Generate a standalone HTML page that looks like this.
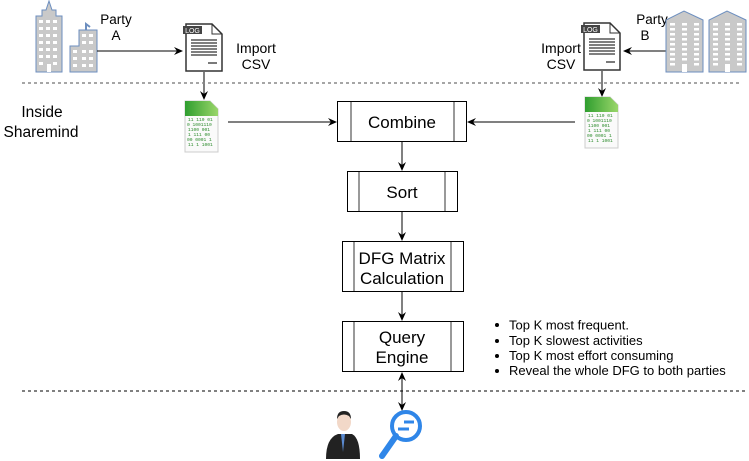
<!DOCTYPE html>
<html><head><meta charset="utf-8"><style>
html,body{margin:0;padding:0;background:#fff;}
svg{display:block;font-family:"Liberation Sans",Arial,sans-serif;}
</style></head><body>
<svg width="749" height="461" viewBox="0 0 749 461" xmlns="http://www.w3.org/2000/svg">
<defs>
<marker id="ar" markerWidth="10" markerHeight="10" refX="8" refY="5" orient="auto" markerUnits="userSpaceOnUse">
<path d="M0,1 L9,5 L0,9 L3,5 Z" fill="#000"/></marker>
<marker id="as" markerWidth="10" markerHeight="10" refX="1" refY="5" orient="auto" markerUnits="userSpaceOnUse">
<path d="M9,1 L0,5 L9,9 L6,5 Z" fill="#000"/></marker>
<linearGradient id="gg" x1="0" y1="0" x2="1" y2="0"><stop offset="0" stop-color="#2f9e2f"/><stop offset="1" stop-color="#9ad66a"/></linearGradient>
</defs>

<!-- Building A big -->
<path d="M36,72 L36,16 L42,16 L42,10 L46,10 L49,1 L52,10 L56,10 L56,16 L62,16 L62,72 Z" fill="#c9c9c9" stroke="#6c8ebf" stroke-width="1"/>
<g fill="#fff">
<rect x="39" y="20" width="4" height="3"/><rect x="46" y="20" width="4" height="3"/><rect x="53" y="20" width="4" height="3"/>
<rect x="39" y="27" width="4" height="3"/><rect x="46" y="27" width="4" height="3"/><rect x="53" y="27" width="4" height="3"/>
<rect x="39" y="34" width="4" height="3"/><rect x="46" y="34" width="4" height="3"/><rect x="53" y="34" width="4" height="3"/>
<rect x="39" y="41" width="4" height="3"/><rect x="46" y="41" width="4" height="3"/><rect x="53" y="41" width="4" height="3"/>
<rect x="39" y="48" width="4" height="3"/><rect x="46" y="48" width="4" height="3"/><rect x="53" y="48" width="4" height="3"/>
<rect x="39" y="55" width="4" height="3"/><rect x="46" y="55" width="4" height="3"/><rect x="53" y="55" width="4" height="3"/>
<rect x="39" y="62" width="4" height="3"/><rect x="47" y="64" width="4" height="8"/><rect x="53" y="62" width="4" height="3"/>
</g>
<!-- Building A small -->
<path d="M70,72 L70,46 L79,46 L79,30 L97,30 L97,72 Z" fill="#c9c9c9" stroke="#6c8ebf" stroke-width="1"/>
<path d="M86,30 L86,24 L90,27" fill="none" stroke="#6c8ebf" stroke-width="2"/>
<g fill="#fff">
<rect x="82" y="34" width="4" height="3"/><rect x="89" y="34" width="4" height="3"/>
<rect x="82" y="41" width="4" height="3"/><rect x="89" y="41" width="4" height="3"/>
<rect x="73" y="50" width="4" height="3"/><rect x="82" y="50" width="4" height="3"/><rect x="89" y="50" width="4" height="3"/>
<rect x="73" y="57" width="4" height="3"/><rect x="82" y="57" width="4" height="3"/><rect x="89" y="57" width="4" height="3"/>
<rect x="73" y="64" width="4" height="3"/><rect x="82" y="64" width="4" height="3"/><rect x="89" y="64" width="4" height="3"/>
</g>
<text x="116" y="24" font-size="13.5" text-anchor="middle">Party</text>
<text x="116" y="40" font-size="13.5" text-anchor="middle">A</text>
<line x1="97" y1="51" x2="182" y2="51" stroke="#000" stroke-width="1" marker-end="url(#ar)"/>

<!-- LOG doc A -->
<g id="logdoc">
<path d="M186,24 L212,24 L222,34 L222,71 L186,71 Z" fill="#fff" stroke="#333" stroke-width="1.5"/>
<path d="M212,24 L212,34 L222,34" fill="none" stroke="#333" stroke-width="1"/>
<rect x="183" y="26" width="19" height="8" fill="#444"/>
<text x="192.5" y="33" font-size="7" fill="#fff" text-anchor="middle">LOG</text>
<g stroke="#333" stroke-width="1.3"><line x1="191" y1="40" x2="217" y2="40"/><line x1="191" y1="43" x2="217" y2="43"/><line x1="191" y1="46" x2="217" y2="46"/><line x1="191" y1="49" x2="217" y2="49"/><line x1="191" y1="52" x2="217" y2="52"/><line x1="191" y1="55" x2="217" y2="55"/><line x1="208" y1="63" x2="217" y2="63"/></g>
</g>
<text x="256" y="53" font-size="14" text-anchor="middle">Import</text>
<text x="256" y="69" font-size="14" text-anchor="middle">CSV</text>
<line x1="204" y1="72" x2="204" y2="99" stroke="#000" marker-end="url(#ar)"/>

<!-- dashed top -->
<line x1="22" y1="83" x2="740" y2="83" stroke="#888" stroke-width="1.5" stroke-dasharray="3,3"/>
<text x="42" y="117" font-size="15.5" text-anchor="middle">Inside</text>
<text x="41" y="137" font-size="15.5" text-anchor="middle">Sharemind</text>

<!-- Green doc A -->
<g id="gdoc">
<path d="M185,101 L210,101 L218,109 L218,152 L185,152 Z" fill="#fafafa" stroke="#ccc"/>
<path d="M185,101 L210,101 L218,109 L218,116 L185,116 Z" fill="url(#gg)"/>
<g font-family="Liberation Mono,monospace" font-size="4.6" fill="#2a8a2a">
<text x="188" y="121">11 110 01</text><text x="187" y="126">0 1001110</text><text x="188" y="131">1100 001</text><text x="188" y="136"> 1 111 00</text><text x="187" y="141">00 0001 1</text><text x="188" y="146">11 1 1001</text>
</g>
</g>

<!-- Right side -->
<g transform="translate(398,-1)"><use href="#logdoc"/></g>
<text x="561" y="53" font-size="14" text-anchor="middle">Import</text>
<text x="561" y="69" font-size="14" text-anchor="middle">CSV</text>
<text x="652" y="24" font-size="13.5" text-anchor="middle">Party</text>
<text x="645" y="40" font-size="13.5" text-anchor="middle">B</text>
<line x1="666" y1="51" x2="624" y2="51" stroke="#000" marker-end="url(#ar)"/>
<line x1="602" y1="71" x2="602" y2="96" stroke="#000" marker-end="url(#ar)"/>
<g transform="translate(400,-4)"><use href="#gdoc"/></g>

<g id="bldB">
<path d="M666,72 L666,20 L684,11 L703,20 L703,72 Z" fill="#c9c9c9" stroke="#6c8ebf"/>
<g fill="#fff">
<rect x="670" y="23" width="5" height="2.5"/><rect x="682" y="23" width="5" height="2.5"/><rect x="694" y="23" width="5" height="2.5"/>
<rect x="670" y="28" width="5" height="2.5"/><rect x="682" y="28" width="5" height="2.5"/><rect x="694" y="28" width="5" height="2.5"/>
<rect x="670" y="33" width="5" height="2.5"/><rect x="682" y="33" width="5" height="2.5"/><rect x="694" y="33" width="5" height="2.5"/>
<rect x="670" y="38" width="5" height="2.5"/><rect x="682" y="38" width="5" height="2.5"/><rect x="694" y="38" width="5" height="2.5"/>
<rect x="670" y="43" width="5" height="2.5"/><rect x="682" y="43" width="5" height="2.5"/><rect x="694" y="43" width="5" height="2.5"/>
<rect x="670" y="48" width="5" height="2.5"/><rect x="682" y="48" width="5" height="2.5"/><rect x="694" y="48" width="5" height="2.5"/>
<rect x="670" y="53" width="5" height="2.5"/><rect x="682" y="53" width="5" height="2.5"/><rect x="694" y="53" width="5" height="2.5"/>
<rect x="670" y="58" width="5" height="2.5"/><rect x="682" y="58" width="5" height="2.5"/><rect x="694" y="58" width="5" height="2.5"/>
<rect x="670" y="63" width="5" height="2.5"/><rect x="682" y="64" width="5" height="8"/><rect x="694" y="63" width="5" height="2.5"/>
</g>
</g>
<g transform="translate(43,0)"><use href="#bldB"/></g>

<!-- Process boxes -->
<g fill="#fff" stroke="#000" stroke-width="1">
<rect x="337.5" y="101.5" width="129" height="40"/>
<rect x="347.5" y="171.5" width="110" height="40"/>
<rect x="342.5" y="241.5" width="121" height="50"/>
<rect x="342.5" y="321.5" width="121" height="50"/>
</g>
<g stroke="#777" stroke-width="1.5">
<line x1="351" y1="102" x2="351" y2="141"/><line x1="454" y1="102" x2="454" y2="141"/>
<line x1="359" y1="172" x2="359" y2="211"/><line x1="445" y1="172" x2="445" y2="211"/>
<line x1="354" y1="242" x2="354" y2="291"/><line x1="451" y1="242" x2="451" y2="291"/>
<line x1="354" y1="322" x2="354" y2="371"/><line x1="451" y1="322" x2="451" y2="371"/>
</g>
<g font-size="17" text-anchor="middle">
<text x="402" y="128">Combine</text>
<text x="402" y="198">Sort</text>
<text x="402" y="264">DFG Matrix</text>
<text x="402" y="284">Calculation</text>
<text x="402" y="343">Query</text>
<text x="402" y="363">Engine</text>
</g>
<line x1="228" y1="122" x2="336" y2="122" stroke="#000" marker-end="url(#ar)"/>
<line x1="575" y1="122" x2="468" y2="122" stroke="#000" marker-end="url(#ar)"/>
<line x1="402" y1="142" x2="402" y2="170" stroke="#000" marker-end="url(#ar)"/>
<line x1="402" y1="212" x2="402" y2="240" stroke="#000" marker-end="url(#ar)"/>
<line x1="402" y1="292" x2="402" y2="320" stroke="#000" marker-end="url(#ar)"/>
<line x1="402" y1="373" x2="402" y2="410" stroke="#000" marker-start="url(#as)" marker-end="url(#ar)"/>

<!-- bullets -->
<g font-size="13">
<circle cx="497" cy="325" r="2"/><text x="509" y="329.5">Top K most frequent.</text>
<circle cx="497" cy="341" r="2"/><text x="509" y="345">Top K slowest activities</text>
<circle cx="497" cy="356" r="2"/><text x="509" y="360">Top K most effort consuming</text>
<circle cx="497" cy="371" r="2"/><text x="509" y="375">Reveal the whole DFG to both parties</text>
</g>
<line x1="22" y1="391" x2="745" y2="391" stroke="#000" stroke-dasharray="3,3"/>

<!-- person -->
<path d="M326,459 Q326,438 338,434 L352,434 Q360,438 360,459 Z" fill="#222"/>
<path d="M341,434 L343,452 L345,434 Z" fill="#5a8ad0"/>
<ellipse cx="344" cy="422" rx="7" ry="9" fill="#f2d8c8"/>
<path d="M337,419 Q337,411 344,411 Q351,411 351,419 L349,416 Q344,413 339,416 Z" fill="#222"/>
<!-- magnifier -->
<circle cx="406" cy="426" r="14" fill="none" stroke="#2f86e8" stroke-width="4"/>
<line x1="396" y1="436" x2="382" y2="456" stroke="#2f86e8" stroke-width="6" stroke-linecap="round"/>
<line x1="404" y1="422" x2="414" y2="422" stroke="#2f86e8" stroke-width="3"/>
<line x1="398" y1="429" x2="409" y2="429" stroke="#2f86e8" stroke-width="3"/>
</svg>
</body></html>
